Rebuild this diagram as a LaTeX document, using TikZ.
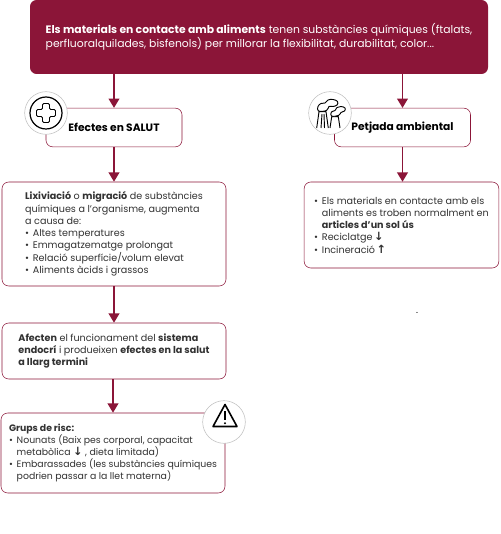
\documentclass[tikz,border=0pt]{standalone}
\usepackage{fontspec}
\setmainfont{Poppins}
\newfontfamily\symfont{DejaVu Sans}
\usepackage{tikz}
\usetikzlibrary{arrows.meta}
\definecolor{wine}{RGB}{139,21,56}
\definecolor{ink}{RGB}{50,50,50}
\newcommand{\itm}{\makebox[5.8pt][l]{\textbullet}}
\newcommand{\hng}{\hspace*{5.8pt}}
\newcommand{\dnarrow}{{\symfont\bfseries\fontsize{8.5}{9}\selectfont ↓}}
\newcommand{\uparr}{{\symfont\bfseries\fontsize{8.5}{9}\selectfont ↑}}
\tikzset{
  topbox/.style={fill=wine, rounded corners=5pt, align=left, text=white, minimum width=343.5pt, minimum height=55.5pt, font=\fontsize{8.1}{10.6}\selectfont, inner sep=0pt},
  headbox/.style={draw=wine, fill=white, rounded corners=5pt, align=left, minimum width=102pt, minimum height=29pt, font=\fontsize{8}{9.2}\selectfont\bfseries, text=black, inner sep=0pt},
  infobox/.style={draw=wine, fill=white, rounded corners=5pt, align=left, text=ink, minimum width=#1, font=\fontsize{7.2}{9.2}\selectfont, inner sep=0pt},
  infobox/.default={168pt},
  ring/.style={draw=black!25, fill=white, circle, minimum size=32pt, inner sep=0pt},
  arrow/.style={-{Triangle[length=7pt, width=8pt]}, line width=1.4pt, draw=wine},
  icon/.style={draw=black, line width=0.7pt, line join=round, fill=white}
}
\begin{document}
\begin{tikzpicture}[x=0.75pt, y=-0.75pt]
  \useasboundingbox (0,0) rectangle (500,534);
  % top
  \node[topbox] (top) at (259,37) {\textbf{Els materials en contacte amb aliments} tenen substàncies químiques (ftalats,\\ perfluoralquilades, bisfenols) per millorar la flexibilitat, durabilitat, color...};
  % left column
  \node[headbox] (salut) at (114,127.5) {Efectes en SALUT};
  \node[infobox, minimum height=78pt] (lix) at (114,234) {\textbf{Lixiviació} o \textbf{migració} de substàncies\\ químiques a l’organisme, augmenta\\ a causa de:\\ \itm Altes temperatures\\ \itm Emmagatzematge prolongat\\ \itm Relació superfície/volum elevat\\ \itm Aliments àcids i grassos};
  \node[infobox, minimum height=42pt] (endo) at (114,351) {\textbf{Afecten} el funcionament del \textbf{sistema}\\ \textbf{endocrí} i produeixen \textbf{efectes en la salut}\\ \textbf{a llarg termini}};
  \node[infobox, minimum height=60pt, font=\fontsize{7}{9.1}\selectfont] (risc) at (113,453) {\textbf{Grups de risc:}\\ \itm Nounats (Baix pes corporal, capacitat\\ \hng metabòlica \dnarrow\ , dieta limitada)\\ \itm Embarassades (les substàncies químiques\\ \hng podrien passar a la llet materna)};
  % right column
  \node[headbox] (petjada) at (402.5,127.5) {Petjada ambiental};
  \node[infobox=146pt, minimum height=64.5pt] (article) at (401.5,225) {\itm Els materials en contacte amb els\\ \hng aliments es troben normalment en\\ \hng \textbf{articles d’un sol ús}\\ \itm Reciclatge\,\dnarrow\\ \itm Incineració\,\uparr};
  \node[font=\fontsize{7}{9}\selectfont, inner sep=0pt] (dot) at (417,313) {.};
  % connectors
  \draw[arrow] (salut.north |- top.south) -- (salut.north);
  \draw[arrow] (petjada.north |- top.south) -- (petjada.north);
  \draw[arrow] (salut) -- (lix);
  \draw[arrow] (lix) -- (endo);
  \draw[arrow] (endo.south -| risc.north) -- (risc.north);
  \draw[arrow] (petjada.south) -- (petjada.south |- article.north);
  % icons
  \node[ring] (plusring) at (46,113) {};
  \draw[line width=0.9pt] (plusring) circle (16);
  \draw[icon, rounded corners=1pt] (42.5,103.5) -- (49.5,103.5) -- (49.5,109.5) -- (55.5,109.5) -- (55.5,116.5) -- (49.5,116.5) -- (49.5,122.5) -- (42.5,122.5) -- (42.5,116.5) -- (36.5,116.5) -- (36.5,109.5) -- (42.5,109.5) -- cycle;
  \node[ring] (factring) at (330,113) {};
  \draw[icon] (316.7,128) -- (319,111.7) -- (326,111.7) -- (328.3,128);
  \draw[icon] (330,128) -- (331.7,116.7) -- (338.3,116.7) -- (340,128);
  \draw[icon] (321,128) -- (322,114) (324.5,128) -- (324,114);
  \draw[icon] plot[smooth cycle, tension=0.7] coordinates {(318.5,111) (318,106.5) (321,103.5) (325,103) (328,100) (333,99.5) (337.5,101.5) (337,105) (333,106.5) (329,106.5) (326.5,110.5)};
  \draw[icon] plot[smooth cycle, tension=0.7] coordinates {(331.5,116) (331.5,112) (335,110.5) (337,107.5) (341,106.5) (345,108) (344.5,111) (341,112.5) (338.5,115.5)};
  \node[ring] (warnring) at (224,422) {};
  \draw[line width=1.2pt, line join=round] (225,404.5) -- (237,426.5) -- (213,426.5) -- cycle;
  \draw[line width=1.1pt] (225,411) -- (225,420);
  \fill (225,423.2) circle (1.1);
\end{tikzpicture}
\end{document}
